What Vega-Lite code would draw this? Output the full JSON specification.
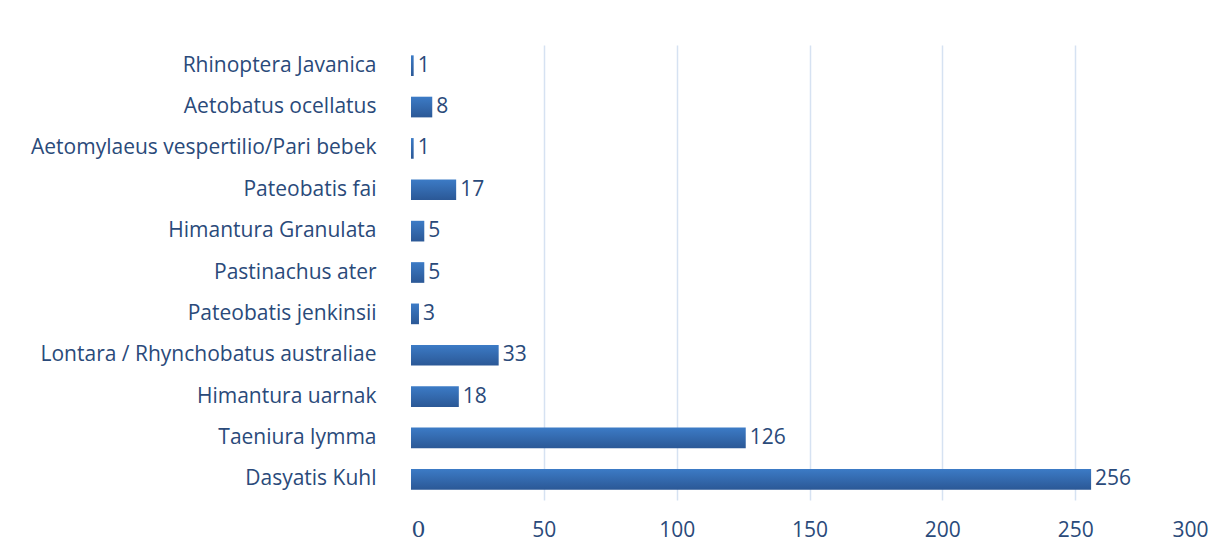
{
  "$schema": "https://vega.github.io/schema/vega-lite/v6.json",
  "width": 797,
  "height": 455,
  "autosize": {"type": "none"},
  "padding": {"left": 411, "top": 45, "right": 21, "bottom": 54},
  "background": "white",
  "config": {"view": {"stroke": null}},
  "data": {"values": [
    {"species": "Rhinoptera Javanica", "count": 1},
    {"species": "Aetobatus ocellatus ", "count": 8},
    {"species": "Aetomylaeus vespertilio/Pari bebek", "count": 1},
    {"species": "Pateobatis fai ", "count": 17},
    {"species": "Himantura Granulata", "count": 5},
    {"species": "Pastinachus ater", "count": 5},
    {"species": "Pateobatis jenkinsii", "count": 3},
    {"species": "Lontara / Rhynchobatus australiae", "count": 33},
    {"species": "Himantura uarnak", "count": 18},
    {"species": "Taeniura lymma", "count": 126},
    {"species": "Dasyatis Kuhl", "count": 256}
  ]},
  "encoding": {
    "y": {
      "field": "species", "type": "nominal", "sort": null,
      "scale": {"paddingInner": 0.5, "paddingOuter": 0.25},
      "axis": {"title": null, "domain": false, "ticks": false, "labelPadding": 35,
               "labelFont": "Open Sans", "labelFontSize": 21, "labelColor": "#2a4a7a", "labelLimit": 400}
    },
    "x": {
      "field": "count", "type": "quantitative",
      "scale": {"domain": [0, 300], "nice": false},
      "axis": {"title": null, "domain": false, "ticks": false, "values": [0, 50, 100, 150, 200, 250, 300],
               "labelPadding": 19, "labelColor": "#2a4a7a",
               "labelFont": {"condition": {"test": "datum.value == 0", "value": "DejaVu Serif"}, "value": "Open Sans"},
               "labelFontSize": {"condition": {"test": "datum.value == 0", "value": 22}, "value": 21},
               "gridColor": {"condition": {"test": "datum.value == 0 || datum.value == 300", "value": "transparent"}, "value": "#d6e2f2"},
               "gridWidth": 1.5}
    }
  },
  "layer": [
    {"mark": {"type": "bar", "color": {"gradient": "linear", "x1": 0, "y1": 0, "x2": 0, "y2": 1,
      "stops": [{"offset": 0, "color": "#3c7bc6"}, {"offset": 1, "color": "#2b5896"}]}}},
    {"mark": {"type": "text", "align": "left", "dx": 4, "font": "Open Sans", "fontSize": 21, "color": "#2a4a7a"},
     "encoding": {"text": {"field": "count", "type": "quantitative"}}}
  ]
}
